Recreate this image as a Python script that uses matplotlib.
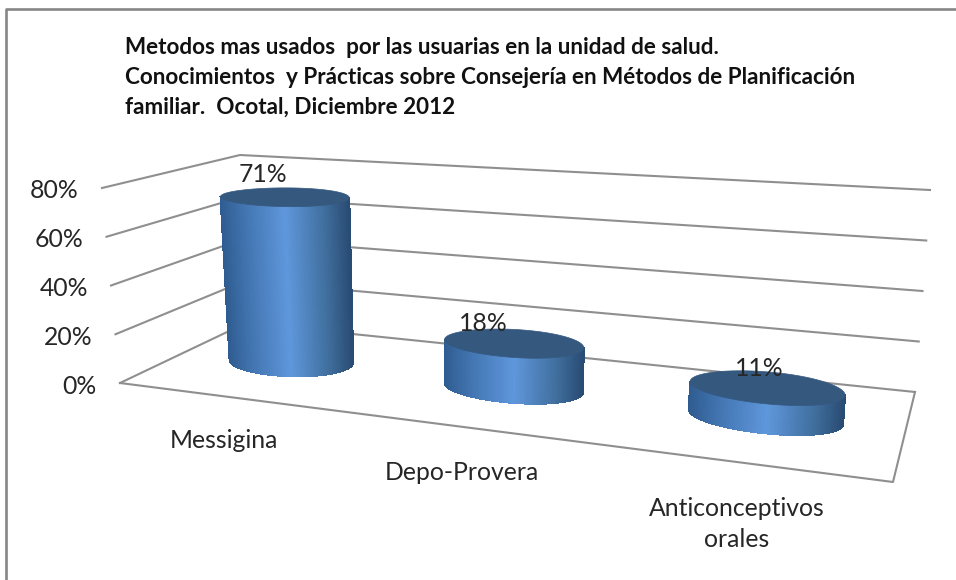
import numpy as np
import matplotlib
matplotlib.use("Agg")
import matplotlib.pyplot as plt
from matplotlib.collections import PolyCollection
from matplotlib.colors import LinearSegmentedColormap

title_lines = ["Metodos mas usados  por las usuarias en la unidad de salud.",
               "Conocimientos  y Prácticas sobre Consejería en Métodos de Planificación",
               "familiar.  Ocotal, Diciembre 2012"]
categories = ["Messigina", "Depo-Provera", "Anticonceptivos\norales"]
values = [71, 18, 11]
y_ticks = [0, 20, 40, 60, 80]

# where things sit in the fake 3d box
bar_u = [0.142, 0.454, 0.806]
bar_d = [0.56, 0.55, 0.55]
bar_ru = [0.08, 0.094, 0.107]
bar_rd = [0.21, 0.19, 0.19]
label_off = [(-48, -14), (-46, -7), (-17, -4)]
label_pos = [(224, 441), (462, 473), (737, 524)]

# box corners in pixels, at 0% and at 80%
corners = {"fl0": (120, 383), "fr0": (893, 482), "bl0": (246, 323), "br0": (915, 392),
           "fl1": (102, 188), "fr1": (912, 252), "bl1": (240, 155), "br1": (930, 190)}
corners = {k: np.array(p, dtype=float) for k, p in corners.items()}


def project(u, d, v):
    # trilinear map, u along categories, d into the depth, v is the value
    u = np.asarray(u, dtype=float)[..., None]
    d = np.asarray(d, dtype=float)[..., None]
    w = np.asarray(v, dtype=float)[..., None] / 80.0
    low = (1-u)*(1-d)*corners["fl0"] + u*(1-d)*corners["fr0"] + (1-u)*d*corners["bl0"] + u*d*corners["br0"]
    top = (1-u)*(1-d)*corners["fl1"] + u*(1-d)*corners["fr1"] + (1-u)*d*corners["bl1"] + u*d*corners["br1"]
    return low*(1-w) + top*w


def front_arc(u, d, ru, rd, v, n=120):
    # the part of the ring that faces the viewer, left to right
    t = np.linspace(0, 2*np.pi, 721)
    ring = project(u + ru*np.cos(t), d + rd*np.sin(t), np.full_like(t, v))
    t_left = t[np.argmin(ring[:, 0])]
    t_right = t[np.argmax(ring[:, 0])]
    if t_right < t_left:
        t_right += 2*np.pi
    ts = np.linspace(t_left, t_right, n)
    return project(u + ru*np.cos(ts), d + rd*np.sin(ts), np.full_like(ts, v)), ring


shade = LinearSegmentedColormap.from_list("cyl", [(0, "#2f5c90"), (0.2, "#4376b2"), (0.5, "#5f97dc"),
                                                  (0.8, "#41709f"), (1, "#294c74")])

plt.rcParams["font.family"] = ["Lato", "DejaVu Sans"]
fig = plt.figure(figsize=(9.56, 5.8), dpi=100)
ax = fig.add_axes([0, 0, 1, 1])
ax.set_xlim(0, 956)
ax.set_ylim(580, 0)
ax.axis("off")

# outer frame, only left and top show in the crop
ax.plot([6, 6, 956], [580, 9, 9], color="#868686", lw=1.9, zorder=1)

grid_col = "#8f8f8f"
for v in y_ticks:
    pts = project([0, 0, 1], [0, 1, 1], [v, v, v])
    ax.plot(pts[:, 0], pts[:, 1], color=grid_col, lw=1.5, zorder=2)
    ax.text(pts[0, 0] - 23, pts[0, 1] + 3, f"{v}%", ha="right", va="center", fontsize=17.8, color="#262626", zorder=6)

floor = project([0, 1, 1], [0, 0, 1], [0, 0, 0])
ax.plot(floor[:, 0], floor[:, 1], color=grid_col, lw=1.5, zorder=2)

for u, d, ru, rd, val, off in zip(bar_u, bar_d, bar_ru, bar_rd, values, label_off):
    base, _ = front_arc(u, d, ru, rd, 0)
    top, ring = front_arc(u, d, ru, rd, val)
    polys = [[base[i], base[i+1], top[i+1], top[i]] for i in range(len(base)-1)]
    # shade by screen position, not by angle
    frac = (base[:-1, 0] - base[:, 0].min()) / np.ptp(base[:, 0])
    cols = shade(frac)
    ax.add_collection(PolyCollection(polys, facecolors=cols, edgecolors=cols, linewidths=0.8,
                                     antialiaseds=False, zorder=3))
    ax.fill(ring[:, 0], ring[:, 1], color="#35587f", lw=0.5, zorder=4)
    c = project(u, d + rd, val)
    ax.text(c[0] + off[0], c[1] + off[1], f"{val}%", ha="center", va="center", fontsize=17.8, color="#262626", zorder=6)

for name, (x, y) in zip(categories, label_pos):
    ax.text(x, y, name, ha="center", va="center", fontsize=17.8, color="#262626", linespacing=1.42, zorder=6)

for line, y in zip(title_lines, [47, 77, 107]):
    ax.text(125, y, line, ha="left", va="center", fontsize=16.2, fontweight="bold", color="#111111", zorder=6)

fig.savefig("out.png", dpi=100)
